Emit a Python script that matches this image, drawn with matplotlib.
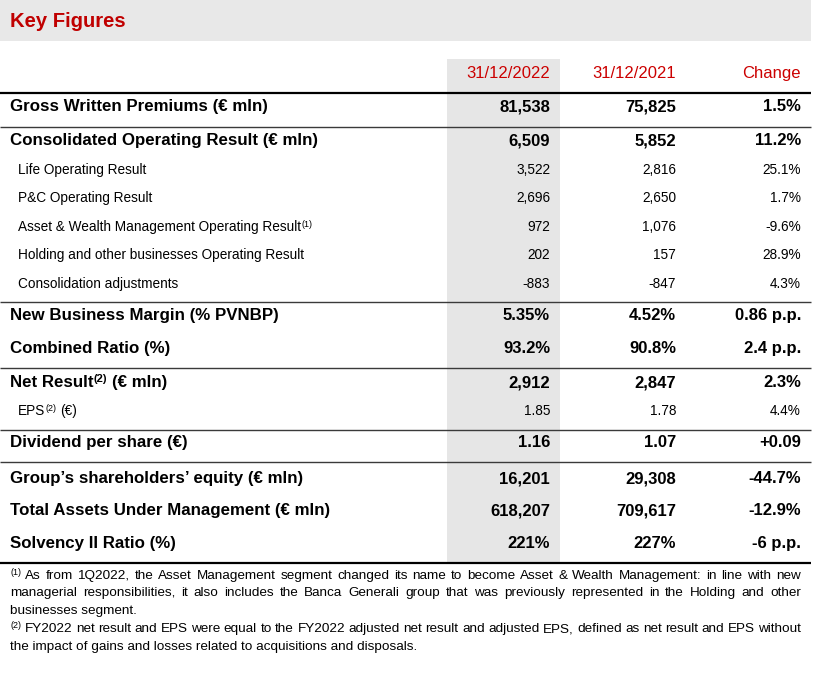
import matplotlib
matplotlib.use("Agg")
import matplotlib.pyplot as plt

plt.rcParams['font.family'] = ['Liberation Sans', 'DejaVu Sans']

# data
title = "Key Figures"
col_headers = ["31/12/2022", "31/12/2021", "Change"]
labels = [
    "Gross Written Premiums (€ mln)",
    "Consolidated Operating Result (€ mln)",
    "Life Operating Result",
    "P&C Operating Result",
    "Asset & Wealth Management Operating Result",
    "Holding and other businesses Operating Result",
    "Consolidation adjustments",
    "New Business Margin (% PVNBP)",
    "Combined Ratio (%)",
    "Net Result",
    "EPS",
    "Dividend per share (€)",
    "Group’s shareholders’ equity (€ mln)",
    "Total Assets Under Management (€ mln)",
    "Solvency II Ratio (%)",
]
label_sup = ["", "", "", "", "(1)", "", "", "", "", "(2)", "(2)", "", "", "", ""]
label_tail = ["", "", "", "", "", "", "", "", "", " (€ mln)", " (€)", "", "", "", ""]
bold_row = [True, True, False, False, False, False, False, True, True, True, False, True, True, True, True]
v2022 = ["81,538", "6,509", "3,522", "2,696", "972", "202", "-883", "5.35%", "93.2%",
         "2,912", "1.85", "1.16", "16,201", "618,207", "221%"]
v2021 = ["75,825", "5,852", "2,816", "2,650", "1,076", "157", "-847", "4.52%", "90.8%",
         "2,847", "1.78", "1.07", "29,308", "709,617", "227%"]
change = ["1.5%", "11.2%", "25.1%", "1.7%", "-9.6%", "28.9%", "4.3%", "0.86 p.p.", "2.4 p.p.",
          "2.3%", "4.4%", "+0.09", "-44.7%", "-12.9%", "-6 p.p."]
notes = [
    ("(1)", ["As from 1Q2022, the Asset Management segment changed its name to become Asset & Wealth Management: in line with new",
             "managerial responsibilities, it also includes the Banca Generali group that was previously represented in the Holding and other",
             "businesses segment."]),
    ("(2)", ["FY2022 net result and EPS were equal to the FY2022 adjusted net result and adjusted EPS, defined as net result and EPS without",
             "the impact of gains and losses related to acquisitions and disposals."]),
]

# layout (pixels)
W, H = 813, 679
row_y = [105, 139, 169, 197, 226, 254, 283, 314, 347, 381, 410, 441, 477, 509, 542]
thin_lines = [127, 302, 368, 430, 462]
col_right = [550, 676, 801]
red = "#c00000"

fig = plt.figure(figsize=(W / 100, H / 100), dpi=100)
ax = fig.add_axes([0, 0, 1, 1])
ax.set_xlim(0, W)
ax.set_ylim(H, 0)
ax.axis("off")
renderer = fig.canvas.get_renderer()


def width(txt, size, weight="normal"):
    t = ax.text(0, 0, txt, fontsize=size, fontweight=weight)
    w = t.get_window_extent(renderer).width
    t.remove()
    return w


def put_runs(x, y, runs):
    for txt, size, weight, rise in runs:
        lead = len(txt) - len(txt.lstrip(" "))
        if lead:
            x += lead * (width("x x", size, weight) - width("xx", size, weight))
            txt = txt.lstrip(" ")
        t = ax.text(x, y - rise, txt, fontsize=size, fontweight=weight, ha="left", va="baseline")
        x += t.get_window_extent(renderer).width
    return x


# header band and title
ax.add_patch(plt.Rectangle((0, 0), 811, 41, color="#e8e8e8", lw=0))
ax.text(10, 27.3, title, fontsize=14.6, fontweight="bold", color=red, va="baseline")

# shaded current-year column
ax.add_patch(plt.Rectangle((447, 59), 113, 563 - 59, color="#e6e6e6", lw=0))

# column headers
for xr, h in zip(col_right, col_headers):
    ax.text(xr, 72 + 6, h, fontsize=12, color="#cc0000", ha="right", va="baseline")

# rules
ax.plot([0, 811], [93, 93], color="black", lw=1.6, solid_capstyle="butt")
ax.plot([0, 811], [563, 563], color="black", lw=1.6, solid_capstyle="butt")
for yl in thin_lines:
    ax.plot([0, 811], [yl, yl], color="#3a3a3a", lw=1.0, solid_capstyle="butt")

# rows
for i, lab in enumerate(labels):
    y = row_y[i]
    if bold_row[i]:
        size, weight, x0, sup_size, rise = 12.2, "bold", 10, 8, 5
        base = y + 6
    else:
        size, weight, x0, sup_size, rise = 9.8, "normal", 18, 6.5, 4
        base = y + 4.8
    runs = [(lab, size, weight, 0)]
    if label_sup[i]:
        runs.append((label_sup[i], sup_size, weight, rise))
    if label_tail[i]:
        runs.append((label_tail[i], size, weight, 0))
    put_runs(x0, base, runs)
    nsize = 12 if bold_row[i] else 9.8
    for xr, val in zip(col_right, [v2022[i], v2021[i], change[i]]):
        ax.text(xr, base, val, fontsize=nsize, fontweight=weight, ha="right", va="baseline")

# footnotes
fn_size = 9.7
fn_y = [574, 591.5, 609, 627.5, 645]
left, right = 10, 801
k = 0
for sup, lines in notes:
    for j, line in enumerate(lines):
        base = fn_y[k] + 4.8
        x = left
        if j == 0:
            x = put_runs(x, base, [(sup, 6.5, "normal", 4)])
            x += width("x x", fn_size) - width("xx", fn_size)
        words = line.split(" ")
        if j < len(lines) - 1:
            ws = [width(w_, fn_size) for w_ in words]
            gap = (right - x - sum(ws)) / (len(words) - 1)
            for w_, ww in zip(words, ws):
                ax.text(x, base, w_, fontsize=fn_size, ha="left", va="baseline")
                x += ww + gap
        else:
            ax.text(x, base, line, fontsize=fn_size, ha="left", va="baseline")
        k += 1

fig.savefig("out.png", dpi=100)
